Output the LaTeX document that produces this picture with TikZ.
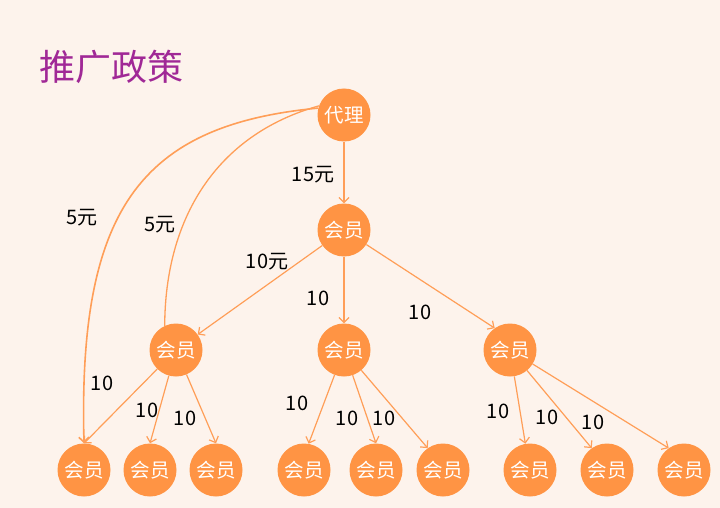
\documentclass[tikz,border=0pt]{standalone}
\usepackage{fontspec}
\setmainfont{Noto Sans CJK SC}
\usetikzlibrary{arrows.meta}
\definecolor{bgc}{RGB}{253,243,236}
\definecolor{nodec}{RGB}{255,148,68}
\definecolor{linec}{RGB}{255,158,88}
\definecolor{titlec}{RGB}{160,40,150}
\tikzset{
  mem/.style={circle,fill=nodec,minimum size=53pt,inner sep=0pt,text=white,font=\fontsize{19.5}{19.5}\selectfont},
  arr/.style={draw=linec,line width=1.2pt,-{Straight Barb[length=5pt,width=10pt]}},
  curv/.style={draw=linec,line width=1.6pt},
  lab/.style={font=\fontsize{20}{20}\selectfont,text=black,inner sep=0pt},
}
\begin{document}
\begin{tikzpicture}[x=1pt,y=-1pt]
\fill[bgc] (0,0) rectangle (720,508);
\useasboundingbox (0,0) rectangle (720,508);
\node[anchor=west,text=titlec,font=\fontsize{36}{36}\selectfont,inner sep=0pt] (title) at (39,67) {推广政策};
\node[mem] (agent) at (344,115) {代理};
\node[mem] (m1) at (344,230) {会员};
\node[mem] (m2a) at (176,350) {会员};
\node[mem] (m2b) at (344,350) {会员};
\node[mem] (m2c) at (510,350) {会员};
\node[mem] (b1) at (84,470) {会员};
\node[mem] (b2) at (150,470) {会员};
\node[mem] (b3) at (216,470) {会员};
\node[mem] (b4) at (304,470) {会员};
\node[mem] (b5) at (376,470) {会员};
\node[mem] (b6) at (443,470) {会员};
\node[mem] (b7) at (530,470) {会员};
\node[mem] (b8) at (607,470) {会员};
\node[mem] (b9) at (684,470) {会员};
% curves
\draw[curv,-{Straight Barb[length=5pt,width=10pt]}] (agent.165) .. controls (140,125) and (78,210) .. (b1.north);
\draw[curv,line width=1.3pt] (agent.160) .. controls (215,135) and (165,220) .. (m2a.115);
% edges
\draw[arr] (agent) -- (m1);
\draw[arr] (m1) -- (m2a);
\draw[arr] (m1) -- (m2b);
\draw[arr] (m1) -- (m2c.125);
\draw[arr] (m2a) -- (b1.north);
\draw[arr] (m2a) -- (b2.north);
\draw[arr] (m2a) -- (b3.north);
\draw[arr] (m2b) -- (b4.80);
\draw[arr] (m2b) -- (b5.north);
\draw[arr] (m2b) -- (b6.125);
\draw[arr] (m2c) -- (b7.100);
\draw[arr] (m2c) -- (b8.125);
\draw[arr] (m2c) -- (b9.125);
% labels
\node[lab] (l1) at (313,175) {15元};
\node[lab] (l2) at (82,218) {5元};
\node[lab] (l3) at (160,225) {5元};
\node[lab] (l4) at (267,262) {10元};
\node[lab] (l5) at (318,298) {10};
\node[lab] (l6) at (420,312) {10};
\node[lab] (l7) at (102,383) {10};
\node[lab] (l8) at (147,410) {10};
\node[lab] (l9) at (185,418) {10};
\node[lab] (l10) at (297,403) {10};
\node[lab] (l11) at (347,418) {10};
\node[lab] (l12) at (384,418) {10};
\node[lab] (l13) at (498,411) {10};
\node[lab] (l14) at (547,417) {10};
\node[lab] (l15) at (593,422) {10};
\end{tikzpicture}
\end{document}
